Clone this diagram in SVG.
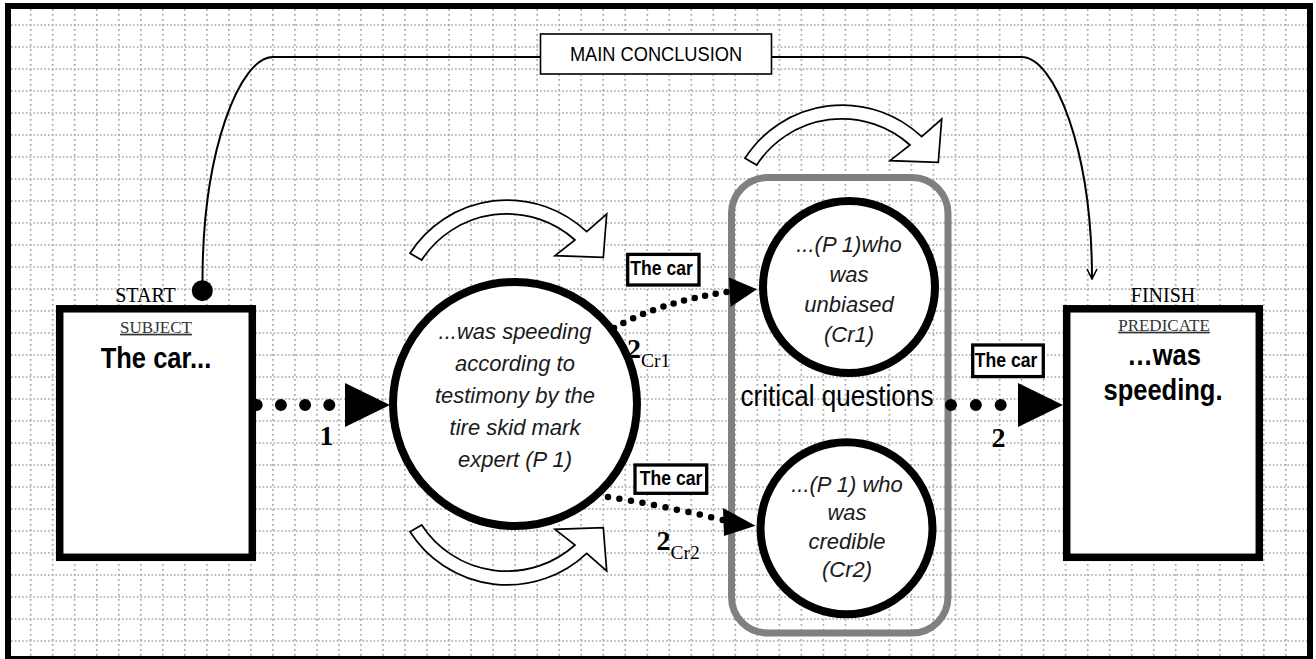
<svg xmlns="http://www.w3.org/2000/svg" width="1316" height="659" viewBox="0 0 1316 659">
  <style>
    .grid{fill:none;stroke:#a8a8a8;stroke-width:1.7}
    .gh{stroke-dasharray:1.7 2}
    .gv{stroke-dasharray:1.7 3.3}
    .sans{font-family:"Liberation Sans",Arial,sans-serif}
    .serif{font-family:"Liberation Serif","Times New Roman",serif}
    .box{fill:#fff;stroke:#000;stroke-width:7.5}
    .circ{fill:#fff;stroke:#000;stroke-width:8}
    .tag{fill:#fff;stroke:#000;stroke-width:3.3}
    .tagt{font-weight:bold;font-size:20px;text-anchor:middle}
    .q{font-style:italic;font-size:22px;text-anchor:middle;fill:#1a1a1a}
    .big{font-weight:bold;font-size:29px;text-anchor:middle}
    .hdr{font-size:17px;text-anchor:middle;text-decoration:underline;fill:#333}
    .mark{font-size:20px;text-anchor:middle}
    .num{font-weight:bold;font-size:28px}
    .sub{font-size:19.5px}
    .bend{fill:#fff;stroke:#000;stroke-width:1.7}
    .dots{fill:none;stroke:#000;stroke-linecap:round}
    .head{fill:#000}
    .thin{fill:none;stroke:#000;stroke-width:2}
  </style>
  <defs>
    <path id="bend" d="M410,253.3 A115.5,115.5 0 0 1 586.7,231.7 L606.7,214 L603.3,257.3 L555,255.7 L575,240 A101.7,101.7 0 0 0 421.7,260 Z"/>
    <marker id="open" viewBox="0 0 12 12" refX="11" refY="6" markerWidth="12" markerHeight="12" markerUnits="userSpaceOnUse" orient="auto">
      <path d="M1,1 L11,6 L1,11" fill="none" stroke="#000" stroke-width="1.6"/>
    </marker>
  </defs>

  <rect width="1316" height="659" fill="#fff"/>

  <!-- dotted background grid -->
  <g id="grid" class="grid">
    <path class="gh" d="M11 25H1307M11 47H1307M11 69H1307M11 91H1307M11 113H1307M11 135H1307M11 157H1307M11 179H1307M11 201H1307M11 223H1307M11 245H1307M11 267H1307M11 289H1307M11 311H1307M11 333H1307M11 355H1307M11 377H1307M11 399H1307M11 421H1307M11 443H1307M11 465H1307M11 487H1307M11 509H1307M11 531H1307M11 553H1307M11 575H1307M11 597H1307M11 619H1307M11 641H1307"/>
    <path class="gv" d="M30.7 9V656M52.7 9V656M74.7 9V656M96.8 9V656M118.8 9V656M140.8 9V656M162.8 9V656M184.8 9V656M206.9 9V656M228.9 9V656M250.9 9V656M272.9 9V656M294.9 9V656M317 9V656M339 9V656M361 9V656M383 9V656M405 9V656M427.1 9V656M449.1 9V656M471.1 9V656M493.1 9V656M515.1 9V656M537.2 9V656M559.2 9V656M581.2 9V656M603.2 9V656M625.2 9V656M647.3 9V656M669.3 9V656M691.3 9V656M713.3 9V656M735.3 9V656M757.4 9V656M779.4 9V656M801.4 9V656M823.4 9V656M845.4 9V656M867.5 9V656M889.5 9V656M911.5 9V656M933.5 9V656M955.5 9V656M977.6 9V656M999.6 9V656M1021.6 9V656M1043.6 9V656M1065.6 9V656M1087.7 9V656M1109.7 9V656M1131.7 9V656M1153.7 9V656M1175.7 9V656M1197.8 9V656M1219.8 9V656M1241.8 9V656M1263.8 9V656M1285.8 9V656"/>
  </g>

  <!-- page frame -->
  <rect x="8" y="6" width="1302" height="653" fill="none" stroke="#000" stroke-width="6"/>

  <!-- hollow curved flow arrows -->
  <g id="flow-arrows" class="bend">
    <use href="#bend"/>
    <use href="#bend" transform="matrix(1 0 0 -1 0 785)"/>
    <use href="#bend" transform="translate(335 -95)"/>
  </g>

  <!-- critical questions container -->
  <g id="critical-questions">
    <rect x="731.5" y="177.5" width="216.5" height="455.5" rx="36" fill="none" stroke="#808080" stroke-width="7"/>
    <text class="sans" font-size="29" text-anchor="middle" transform="translate(837 406) scale(0.9 1)">critical questions</text>
  </g>

  <!-- connectors -->
  <g id="connectors">
    <!-- main conclusion line from START to FINISH -->
    <path class="thin" d="M202.5,281 C202.5,150 240,57 273,57 H540.5"/>
    <path class="thin" d="M771.5,57 H1021.5 C1054.5,57 1092,150 1092,279" marker-end="url(#open)"/>
    <circle cx="202.3" cy="290.7" r="10.5" fill="#000"/>

    <!-- 1 : subject to premise -->
    <path class="dots" d="M256.7,405 H330" stroke-width="12" stroke-dasharray="0 24.2"/>
    <polygon class="head" points="345,383 345,427 390,405"/>

    <!-- 2 Cr1 -->
    <path class="dots" d="M614,328 Q660,302 727,292" stroke-width="6.5" stroke-dasharray="0 10.8"/>
    <polygon class="head" points="729,277.5 730.5,307 757,289.3"/>

    <!-- 2 Cr2 -->
    <path class="dots" d="M608,497 Q660,505 723,520" stroke-width="6.5" stroke-dasharray="0 11.7"/>
    <polygon class="head" points="723,508 724,536 755.5,525.7"/>

    <!-- 2 : critical questions to predicate -->
    <path class="dots" d="M951,405 H1002" stroke-width="12" stroke-dasharray="0 24.85"/>
    <polygon class="head" points="1018,383 1018,427 1063,405"/>

    <text class="serif num" x="326.5" y="445" text-anchor="middle">1</text>
    <text class="serif num" x="998.5" y="446.5" text-anchor="middle">2</text>
    <text class="serif" x="627" y="358"><tspan class="num">2</tspan><tspan class="sub" dy="9">Cr1</tspan></text>
    <text class="serif" x="656.5" y="550"><tspan class="num">2</tspan><tspan class="sub" dy="9.3">Cr2</tspan></text>
  </g>

  <!-- "The car" tags on the arrows -->
  <g id="tag-cr1">
    <rect class="tag" x="627.7" y="254.4" width="71.3" height="30.6"/>
    <text class="sans tagt" transform="translate(661.5 275) scale(0.88 1)">The car</text>
  </g>
  <g id="tag-cr2">
    <rect class="tag" x="635" y="465" width="71.7" height="28.3"/>
    <text class="sans tagt" transform="translate(671 485) scale(0.88 1)">The car</text>
  </g>
  <g id="tag-final">
    <rect class="tag" x="972.7" y="345" width="70.6" height="31.6"/>
    <text class="sans tagt" transform="translate(1006 366.7) scale(0.88 1)">The car</text>
  </g>

  <!-- main conclusion label -->
  <g id="main-conclusion">
    <rect x="540.5" y="34" width="231" height="40" fill="#fff" stroke="#000" stroke-width="1.6"/>
    <text class="sans" font-size="20.5" text-anchor="middle" transform="translate(656 61) scale(0.89 1)">MAIN CONCLUSION</text>
  </g>

  <!-- subject box -->
  <g id="subject">
    <text class="serif mark" x="145.5" y="301.7">START</text>
    <rect class="box" x="59.7" y="308.8" width="192.6" height="248.5"/>
    <text class="serif hdr" x="156" y="332.7">SUBJECT</text>
    <text class="sans big" transform="translate(156 368.3) scale(0.88 1)">The car...</text>
  </g>

  <!-- premise circle -->
  <g id="premise">
    <circle class="circ" cx="515" cy="404" r="122"/>
    <text class="sans q" x="515" y="339">...was speeding</text>
    <text class="sans q" x="515" y="371">according to</text>
    <text class="sans q" x="515" y="403">testimony by the</text>
    <text class="sans q" x="515" y="435">tire skid mark</text>
    <text class="sans q" x="515" y="467">expert (P 1)</text>
  </g>

  <!-- critical question 1 -->
  <g id="cr1">
    <circle class="circ" cx="849" cy="287" r="86"/>
    <text class="sans q" x="849" y="252">...(P 1)who</text>
    <text class="sans q" x="849" y="282">was</text>
    <text class="sans q" x="849" y="312">unbiased</text>
    <text class="sans q" x="849" y="342">(Cr1)</text>
  </g>

  <!-- critical question 2 -->
  <g id="cr2">
    <circle class="circ" cx="846.5" cy="528.3" r="86"/>
    <text class="sans q" x="847" y="492">...(P 1) who</text>
    <text class="sans q" x="847" y="520">was</text>
    <text class="sans q" x="847" y="548.5">credible</text>
    <text class="sans q" x="847" y="577">(Cr2)</text>
  </g>

  <!-- predicate box -->
  <g id="predicate">
    <text class="serif mark" x="1163" y="301.7">FINISH</text>
    <rect class="box" x="1066.7" y="308.8" width="192.6" height="248.5"/>
    <text class="serif hdr" x="1164" y="330.7">PREDICATE</text>
    <text class="sans big" transform="translate(1164 365) scale(0.88 1)">…was</text>
    <text class="sans big" transform="translate(1163 400) scale(0.88 1)">speeding.</text>
  </g>
</svg>
